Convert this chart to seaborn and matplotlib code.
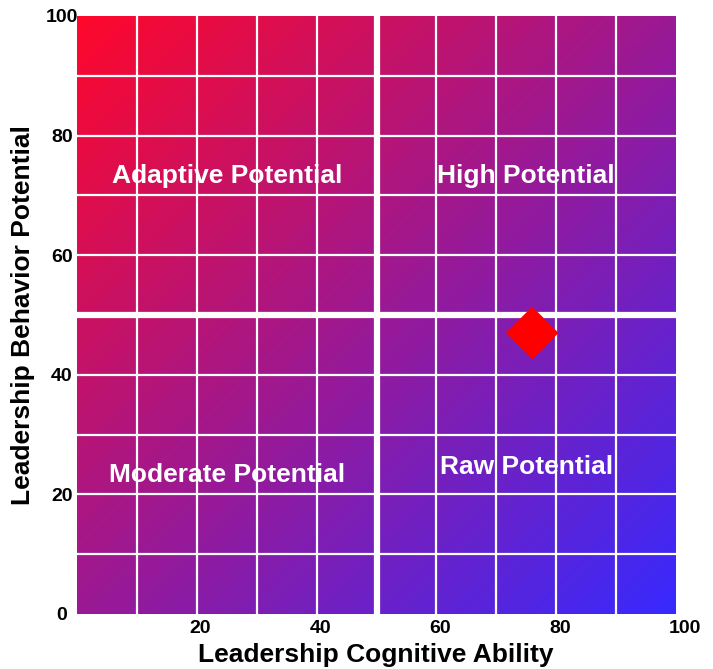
import numpy as np
import pandas as pd
import matplotlib
matplotlib.use("Agg")
import matplotlib.pyplot as plt
import matplotlib.transforms as mtransforms
import seaborn as sns

# ---- data ----
point_x = [76]
point_y = [47]
quadrant_names = ["Adaptive Potential", "High Potential", "Moderate Potential", "Raw Potential"]
quadrant_x = [25, 75, 25, 75]
quadrant_y = [73.2, 73.2, 23.2, 24.6]
x_ticks = [20, 40, 60, 80, 100]
y_ticks = [0, 20, 40, 60, 80, 100]
x_label = "Leadership Cognitive Ability"
y_label = "Leadership Behavior Potential"

sns.set_theme(style="white")
plt.rcParams['font.family'] = ['Liberation Sans', 'DejaVu Sans']

fig = plt.figure(figsize=(7.13, 6.69), dpi=100)
ax = fig.add_axes([77/713, 55/669, 599/713, 598/669])

# gradient background: red top-left -> blue bottom-right
n = 400
gx, gy = np.meshgrid(np.linspace(0, 1, n), np.linspace(1, 0, n))
t = (gx + (1 - gy)) / 2.0
c0 = np.array([255, 8, 42]) / 255.0
c1 = np.array([55, 42, 255]) / 255.0
img = c0[None, None, :] * (1 - t[..., None]) + c1[None, None, :] * t[..., None]
ax.imshow(img, extent=[0, 100, 0, 100], origin="upper", aspect="auto", zorder=0, interpolation="bilinear")

ax.set_xlim(0, 100)
ax.set_ylim(0, 100)

# grid
for g in np.arange(10, 100, 10):
    ax.axvline(g, color="white", linewidth=1.6, zorder=1)
    ax.axhline(g, color="white", linewidth=1.6, zorder=1)
ax.axvline(50, color="white", linewidth=4.5, zorder=2)
ax.axhline(50, color="white", linewidth=4.5, zorder=2)

# point
df = pd.DataFrame({"x": point_x, "y": point_y})
sns.scatterplot(data=df, x="x", y="y", marker="D", s=720, color="#ff0000",
                edgecolor="none", linewidth=0, ax=ax, zorder=5, legend=False)

for name, qx, qy in zip(quadrant_names, quadrant_x, quadrant_y):
    ax.text(qx, qy, name, color="white", fontsize=19, fontweight="bold",
            ha="center", va="center", zorder=6)

ax.set_xticks(x_ticks)
ax.set_yticks(y_ticks)
ax.tick_params(axis="both", which="both", length=0)
ax.tick_params(axis="x", pad=4)
ax.tick_params(axis="y", pad=11)
ax.set_xticklabels([str(v) for v in x_ticks], fontsize=14, fontweight="bold", color="black")
ax.set_yticklabels([str(v) for v in y_ticks], fontsize=14, fontweight="bold", color="black")
offset = mtransforms.ScaledTranslation(-7 / 100, 0, fig.dpi_scale_trans)
for tick in ax.xaxis.get_major_ticks():
    tick.label1.set_horizontalalignment("left")
    tick.label1.set_transform(tick.label1.get_transform() + offset)
for tick in ax.yaxis.get_major_ticks():
    tick.label1.set_horizontalalignment("center")

for s in ax.spines.values():
    s.set_visible(False)

ax.set_xlabel(x_label, fontsize=19, fontweight="bold", color="black")
ax.set_ylabel(y_label, fontsize=19, fontweight="bold", color="black")
ax.xaxis.set_label_coords(0.498, -0.0686)
ax.xaxis.label.set_verticalalignment("center")
ax.yaxis.set_label_coords((23 - 77) / 599, 0.5)
ax.yaxis.label.set_verticalalignment("center")

fig.savefig("out.png", dpi=100)
